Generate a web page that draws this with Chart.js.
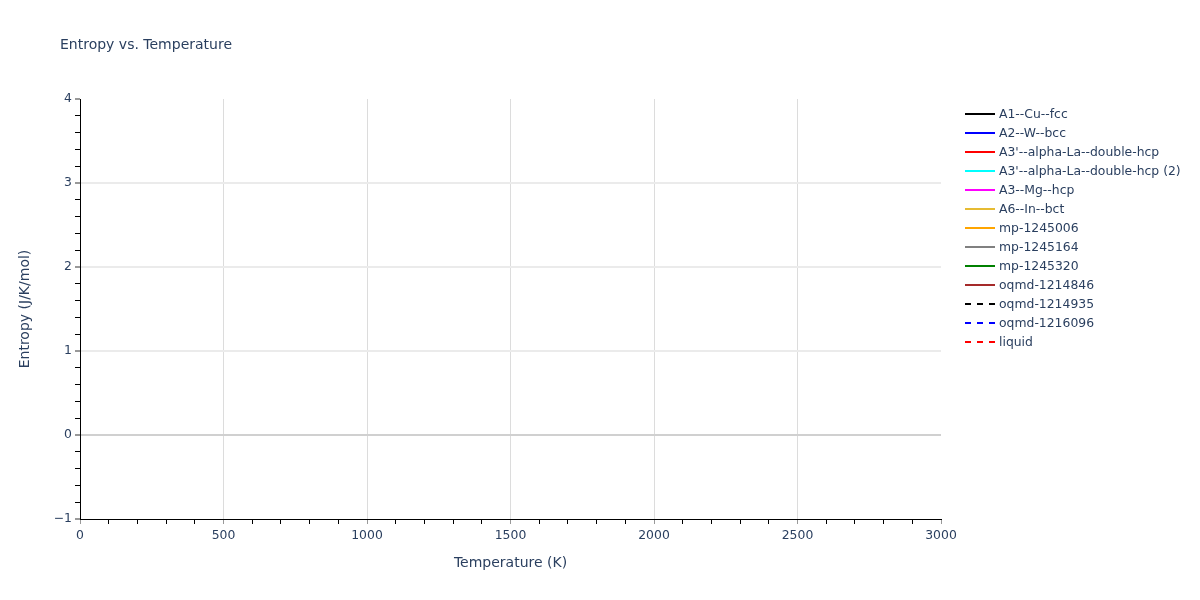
<!DOCTYPE html>
<html>
<head>
<meta charset="utf-8">
<script src="https://cdn.jsdelivr.net/npm/chart.js@4"></script>
<style>
  html, body { margin: 0; padding: 0; background: #fff; }
  #wrap { width: 1200px; height: 600px; position: relative; }
</style>
</head>
<body>
<div id="wrap"><canvas id="chart" width="1200" height="600"></canvas></div>
<script>
Chart.defaults.font.family = '"DejaVu Sans", Verdana, sans-serif';
Chart.defaults.color = '#2a3f5f';

// phases in the legend; the reference draws no points for any of them
const seriesNames = [
  'A1--Cu--fcc', 'A2--W--bcc', "A3'--alpha-La--double-hcp", "A3'--alpha-La--double-hcp (2)",
  'A3--Mg--hcp', 'A6--In--bct', 'mp-1245006', 'mp-1245164', 'mp-1245320',
  'oqmd-1214846', 'oqmd-1214935', 'oqmd-1216096', 'liquid'
];
const seriesColors = [
  '#000000', '#0000ff', '#ff0000', '#00ffff', '#ff00ff', '#e6bb33', '#ffa500',
  '#808080', '#008000', '#a52a2a', '#000000', '#0000ff', '#ff0000'
];
const seriesDashed = [false, false, false, false, false, false, false, false, false, false, true, true, true];
const seriesValues = seriesNames.map(() => []);   // empty traces

const xTickLabels = [0, 500, 1000, 1500, 2000, 2500, 3000];
const yTickLabels = [-1, 0, 1, 2, 3, 4];

const isWhole = (v) => Math.abs(v - Math.round(v)) < 1e-6;

const titleAndLegend = {
  id: 'titleAndLegend',
  afterDraw(chart) {
    const ctx = chart.ctx;
    ctx.save();
    ctx.fillStyle = '#2a3f5f';
    ctx.font = '14px "DejaVu Sans", sans-serif';
    ctx.textBaseline = 'middle';
    ctx.fillText('Entropy vs. Temperature', 60, 45);

    ctx.font = '12.4px "DejaVu Sans", sans-serif';
    chart.data.datasets.forEach((ds, i) => {
      const y = 114 + i * 19;
      ctx.strokeStyle = ds.borderColor;
      ctx.lineWidth = 2;
      ctx.setLineDash(ds.borderDash || []);
      ctx.beginPath();
      ctx.moveTo(965, y);
      ctx.lineTo(995, y);
      ctx.stroke();
      ctx.fillStyle = '#2a3f5f';
      ctx.fillText(ds.label, 999, y + 1);
    });
    ctx.restore();
  }
};

new Chart(document.getElementById('chart'), {
  type: 'line',
  plugins: [titleAndLegend],
  data: {
    datasets: seriesNames.map((name, i) => ({
      label: name,
      data: seriesValues[i],
      borderColor: seriesColors[i],
      borderWidth: 2,
      borderDash: seriesDashed[i] ? [6, 6] : [],
      pointRadius: 0,
      fill: false,
    })),
  },
  options: {
    responsive: false,
    animation: false,
    devicePixelRatio: 1,
    layout: { padding: { left: 13, top: 99, right: 259, bottom: 24 } },
    plugins: {
      legend: { display: false },
      title: { display: false },
      tooltip: { enabled: false },
    },
    scales: {
      x: {
        type: 'linear',
        min: xTickLabels[0],
        max: xTickLabels[xTickLabels.length - 1],
        afterFit: (scale) => { scale.height = 57; },
        ticks: {
          stepSize: 100,
          autoSkip: false,
          maxRotation: 0,
          padding: 4,
          font: { size: 12.4 },
          callback: (v) => xTickLabels.includes(v) ? String(v) : '',
        },
        grid: {
          drawTicks: true,
          tickLength: 5,
          lineWidth: 1,
          color: (c) => (c.tick && c.tick.value % 500 === 0 && c.tick.value !== 0 && c.tick.value !== 3000) ? '#dcdcdc' : 'rgba(0,0,0,0)',
          tickColor: (c) => (c.tick && c.tick.value % 500 === 0) ? '#999999' : '#000000',
        },
        border: { display: true, color: '#000000', width: 1 },
        title: {
          display: true,
          text: 'Temperature (K)',
          font: { size: 14 },
          padding: { top: 4, bottom: 4 },
        },
      },
      y: {
        type: 'linear',
        min: yTickLabels[0],
        max: yTickLabels[yTickLabels.length - 1],
        afterFit: (scale) => { scale.width = 67; },
        ticks: {
          stepSize: 0.2,
          autoSkip: false,
          padding: 3,
          font: { size: 12.4 },
          callback: (v) => isWhole(v) ? String(Math.round(v)).replace('-', '\u2212') : '',
        },
        grid: {
          drawTicks: true,
          tickLength: 5,
          lineWidth: (c) => (c.tick && isWhole(c.tick.value)) ? 2 : 1,
          color: (c) => {
            if (!c.tick || !isWhole(c.tick.value)) return 'rgba(0,0,0,0)';
            const v = Math.round(c.tick.value);
            if (v === 0) return '#d0d0d0';
            if (v === -1 || v === 4) return 'rgba(0,0,0,0)';
            return '#ebebeb';
          },
          tickColor: (c) => (c.tick && isWhole(c.tick.value)) ? '#999999' : '#000000',
        },
        border: { display: true, color: '#000000', width: 1 },
        title: {
          display: true,
          text: 'Entropy (J/K/mol)',
          font: { size: 14 },
          padding: { top: 4, bottom: 4 },
        },
      },
    },
  },
});
</script>
</body>
</html>
